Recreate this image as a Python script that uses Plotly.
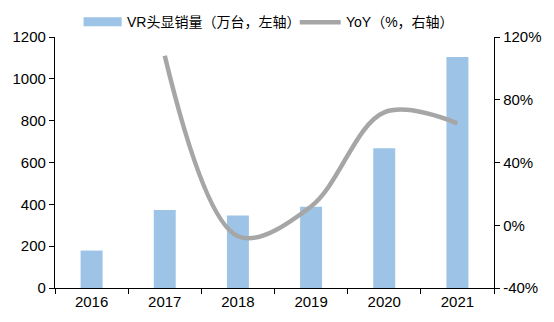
import plotly.graph_objects as go

# VR headset shipments (10k units) and year-on-year growth (%)
years = ["2016", "2017", "2018", "2019", "2020", "2021"]
shipments = [179, 373, 347, 389, 668, 1104]
yoy = [None, 108, -7, 12, 72, 65]

bar_name = "VR头显销量（万台，左轴）"
line_name = "YoY（%，右轴）"

bar_color = "#9DC3E6"
line_color = "#A6A6A6"
font_family = "Liberation Sans, Arial, Noto Sans CJK SC"

fig = go.Figure()
fig.add_trace(go.Bar(
    x=years, y=shipments, name=bar_name,
    marker=dict(color=bar_color, line=dict(width=0)),
    width=0.3, yaxis="y",
))
fig.add_trace(go.Scatter(
    x=years, y=yoy, name=line_name, mode="lines",
    line=dict(color=line_color, width=4.5, shape="spline", smoothing=1.0),
    connectgaps=False, yaxis="y2",
))

# Hand-drawn legend row above the plot
fig.add_shape(type="rect", xref="paper", yref="paper",
              x0=(73 - 43) / 461, x1=(113 - 43) / 461,
              y0=1 + (37 - 26) / 255, y1=1 + (37 - 17) / 255,
              fillcolor=bar_color, line=dict(width=0))
fig.add_shape(type="line", xref="paper", yref="paper",
              x0=(300 - 43) / 461, x1=(343 - 43) / 461,
              y0=1 + (37 - 22) / 255, y1=1 + (37 - 22) / 255,
              line=dict(color=line_color, width=4.5))
fig.add_annotation(text=bar_name, xref="paper", yref="paper",
                   x=(117 - 43) / 461, y=1 + (37 - 22) / 255,
                   xanchor="left", yanchor="middle", showarrow=False,
                   font=dict(size=14, color="#000000", family=font_family))
fig.add_annotation(text=line_name, xref="paper", yref="paper",
                   x=(346 - 43) / 461, y=1 + (37 - 22) / 255,
                   xanchor="left", yanchor="middle", showarrow=False,
                   font=dict(size=14, color="#000000", family=font_family))

fig.update_layout(
    width=554, height=322,
    margin=dict(l=43, r=50, t=37, b=30),
    paper_bgcolor="white", plot_bgcolor="white",
    showlegend=False,
    font=dict(family=font_family, size=15, color="#000000"),
    xaxis=dict(
        type="category", range=[-0.5, 5.5],
        showline=True, linecolor="#000000", linewidth=1.3,
        ticks="outside", tickson="boundaries", ticklen=5, tickcolor="#000000",
        showgrid=False, zeroline=False,
    ),
    yaxis=dict(
        range=[0, 1200], tickvals=[0, 200, 400, 600, 800, 1000, 1200],
        showline=True, linecolor="#000000", linewidth=1.3,
        ticks="outside", ticklen=5, tickcolor="#000000",
        showgrid=False, zeroline=False,
    ),
    yaxis2=dict(
        overlaying="y", side="right",
        range=[-40, 120], tickvals=[-40, 0, 40, 80, 120],
        ticktext=["-40%", "0%", "40%", "80%", "120%"],
        showline=True, linecolor="#000000", linewidth=1.3,
        ticks="outside", ticklen=5, tickcolor="#000000",
        showgrid=False, zeroline=False,
    ),
    bargap=0.7,
)

fig.write_html("out.html")
